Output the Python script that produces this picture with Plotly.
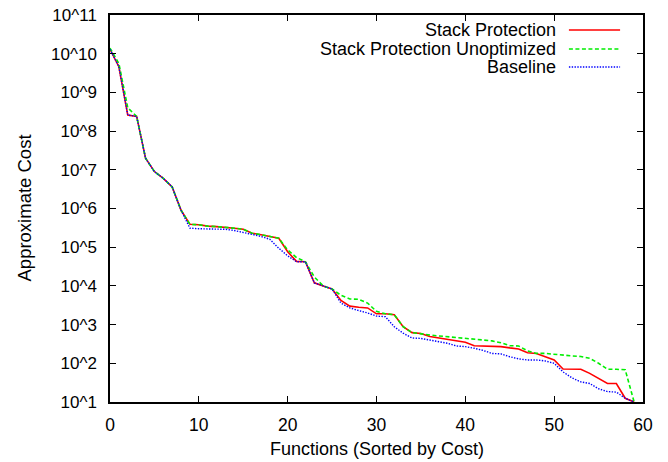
import plotly.graph_objects as go

functions = list(range(60))

stack_protection = [
    1.3e10, 4.6e9, 2.6e8, 2.4e8, 2.0e7, 9.0e6, 6.0e6, 3.6e6, 9.0e5, 3.9e5,
    3.8e5, 3.5e5, 3.4e5, 3.3e5, 3.1e5, 2.9e5, 2.3e5, 2.1e5, 1.9e5, 1.7e5,
    7.6e4, 4.3e4, 4.2e4, 1.2e4, 1.0e4, 8.3e3, 4.2e3, 3.0e3, 2.8e3, 2.7e3,
    1.9e3, 1.9e3, 1.8e3, 880, 620, 590, 490, 450, 420, 380,
    350, 285, 280, 280, 270, 250, 235, 187, 180, 148,
    122, 71, 71, 70, 55, 41, 30, 30, 12.5, 10,
]

stack_protection_unopt = [
    1.4e10, 5.6e9, 4.0e8, 2.4e8, 2.0e7, 9.0e6, 6.0e6, 3.6e6, 9.0e5, 3.9e5,
    3.8e5, 3.5e5, 3.4e5, 3.3e5, 3.1e5, 2.9e5, 2.3e5, 2.1e5, 1.9e5, 1.7e5,
    8.5e4, 5.4e4, 4.2e4, 1.7e4, 1.0e4, 8.3e3, 5.7e3, 4.6e3, 4.5e3, 3.6e3,
    2.2e3, 1.9e3, 1.8e3, 880, 620, 590, 540, 510, 490, 460,
    440, 420, 400, 380, 340, 285, 280, 210, 180, 180,
    170, 165, 155, 150, 135, 100, 70, 70, 68, 10,
]

baseline = [
    1.3e10, 4.6e9, 2.6e8, 2.4e8, 2.0e7, 9.0e6, 6.0e6, 3.6e6, 9.0e5, 3.1e5,
    3.0e5, 2.95e5, 2.9e5, 2.9e5, 2.7e5, 2.4e5, 2.1e5, 1.9e5, 1.6e5, 9.4e4,
    6.0e4, 4.2e4, 4.2e4, 1.2e4, 1.0e4, 8.3e3, 3.6e3, 2.7e3, 2.3e3, 2.0e3,
    1.66e3, 1.6e3, 880, 600, 450, 440, 400, 360, 330, 280,
    270, 245, 215, 180, 175, 148, 130, 122, 122, 115,
    100, 60, 42, 33, 30, 22, 18.6, 18, 12.5, 10,
]

series_names = ["Stack Protection", "Stack Protection Unoptimized", "Baseline"]
y_tick_vals = [10 ** k for k in range(1, 12)]
y_tick_text = ["10^%d" % k for k in range(1, 12)]
x_tick_vals = [0, 10, 20, 30, 40, 50, 60]

FONT = "Liberation Sans, Arial, Helvetica, sans-serif"
styles = [
    dict(color="#ff0000", width=1.6, dash="solid"),
    dict(color="#00ee00", width=1.6, dash="4px,2.5px"),
    dict(color="#0000ff", width=1.4, dash="1.4px,1.4px"),
]

fig = go.Figure()
for name, vals, st in zip(series_names, [stack_protection, stack_protection_unopt, baseline], styles):
    fig.add_trace(go.Scatter(x=functions, y=vals, mode="lines", name=name,
                             line=st, showlegend=False, cliponaxis=True))

# manual gnuplot-style legend (text right, sample on the right)
leg_text_x = 0.8405
leg_rows = [0.9612, 0.9121, 0.8656]
annotations = []
shapes = []
for name, yy, st in zip(series_names, leg_rows, styles):
    annotations.append(dict(text=name, x=leg_text_x, y=yy, xref="paper", yref="paper",
                            xanchor="right", yanchor="middle", showarrow=False,
                            font=dict(size=18, color="#000000", family=FONT)))
    shapes.append(dict(type="line", xref="paper", yref="paper", x0=0.861, x1=0.957,
                       y0=yy, y1=yy, line=dict(color=st["color"], width=st["width"], dash=st["dash"])))

annotations.append(dict(text="Functions (Sorted by Cost)", x=0.5, y=0, xref="paper", yref="paper",
                        xanchor="center", yanchor="middle", yshift=-47, showarrow=False,
                        font=dict(size=18, color="#000000", family=FONT)))
annotations.append(dict(text="Approximate Cost", x=0, y=0.5, xref="paper", yref="paper",
                        xanchor="center", yanchor="middle", xshift=-86, textangle=-90,
                        showarrow=False, font=dict(size=18.5, color="#000000", family=FONT)))

# page body has an 8px margin: shrink the figure so the plot area lands on the reference pixels
fig.update_layout(
    width=660, height=454,
    margin=dict(l=102, r=25, t=7, b=60, autoexpand=False),
    paper_bgcolor="white", plot_bgcolor="white",
    font=dict(family=FONT, size=18, color="#000000"),
    annotations=annotations, shapes=shapes,
    showlegend=False,
)
fig.update_xaxes(range=[0, 60], tickvals=x_tick_vals, ticks="inside", ticklen=6,
                 tickwidth=1.2, tickcolor="#000000", showline=True, linecolor="#000000",
                 linewidth=1.5, mirror="allticks", showgrid=False, zeroline=False,
                 tickfont=dict(size=17.5, family=FONT), ticklabelstandoff=6,
                 ticklabeloverflow="allow", automargin=False)
fig.update_yaxes(type="log", range=[0.99999, 11.00001], tickvals=y_tick_vals, ticktext=y_tick_text,
                 ticks="inside", ticklen=6, tickwidth=1.2, tickcolor="#000000",
                 showline=True, linecolor="#000000", linewidth=1.5, mirror="allticks",
                 showgrid=False, zeroline=False, tickfont=dict(size=17, family=FONT),
                 ticklabelstandoff=8, ticklabeloverflow="allow", automargin=False)

fig.write_html("out.html")
